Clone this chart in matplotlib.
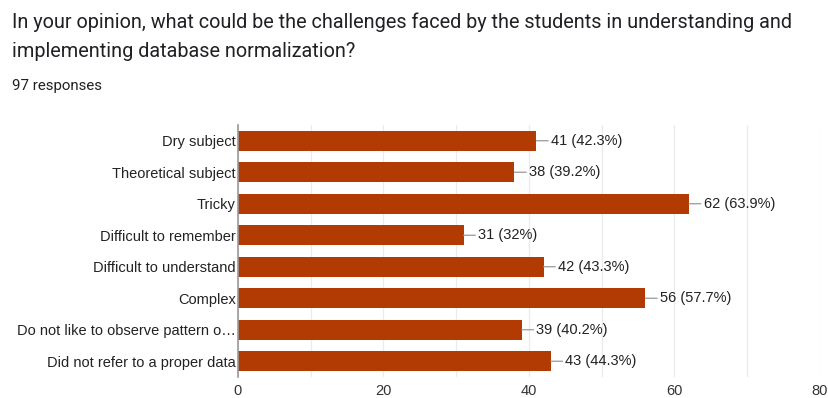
import matplotlib
matplotlib.use("Agg")
import matplotlib.pyplot as plt
from matplotlib.ticker import MultipleLocator

categories = [
    "Dry subject",
    "Theoretical subject",
    "Tricky",
    "Difficult to remember",
    "Difficult to understand",
    "Complex",
    "Do not like to observe pattern o\u2026",
    "Did not refer to a proper data",
]
counts = [41, 38, 62, 31, 42, 56, 39, 43]
percent_labels = ["42.3%", "39.2%", "63.9%", "32%", "43.3%", "57.7%", "40.2%", "44.3%"]
x_ticks = [0, 20, 40, 60, 80]

title = ("In your opinion, what could be the challenges faced by the students in understanding and\n"
         "implementing database normalization?")
subtitle = "97 responses"

bar_color = "#B23A03"
label_font = ["Liberation Sans", "DejaVu Sans"]
W, H = 829, 398
fig = plt.figure(figsize=(W / 100, H / 100), dpi=100)
fig.patch.set_facecolor("white")

fig.text(12 / W, 1 - 12 / H, title, ha="left", va="top", fontsize=14.3,
         family=["Roboto", "DejaVu Sans"], color="#202124", linespacing=1.72)
fig.text(12 / W, 1 - 79 / H, subtitle, ha="left", va="top", fontsize=10.8,
         family=["Roboto", "DejaVu Sans"], color="#202124")

ax = fig.add_axes([238 / W, 1 - 377 / H, (820 - 238) / W, (377 - 125) / H])
ypos = list(range(len(categories)))
ax.barh(ypos, counts, height=0.64, color=bar_color, zorder=3)

for y, c, p in zip(ypos, counts, percent_labels):
    ax.annotate(f"{c} ({p})", xy=(c, y), xytext=(10.5, 0), textcoords="offset points",
                ha="left", va="center", fontsize=10.5, color="#222222",
                family=label_font,
                arrowprops=dict(arrowstyle="-", color="#999999", lw=0.9,
                                shrinkA=0, shrinkB=0))

ax.set_xlim(0, 80)
ax.set_ylim(len(categories) - 0.5, -0.5)
ax.set_yticks(ypos)
ax.set_yticklabels(categories, fontsize=10.5, color="#222222", family=label_font)
ax.set_xticks(x_ticks)
ax.set_xticklabels([str(t) for t in x_ticks], fontsize=10.5, color="#333333",
                   family=label_font)
ax.xaxis.set_minor_locator(MultipleLocator(10))
ax.grid(axis="x", which="both", color="#ebebeb", lw=0.9, zorder=0)
ax.tick_params(axis="both", which="both", length=0)
ax.tick_params(axis="x", pad=5)
ax.tick_params(axis="y", pad=1.5)
for side in ["top", "right", "bottom"]:
    ax.spines[side].set_visible(False)
ax.spines["left"].set_color("#999999")
ax.spines["left"].set_linewidth(1.2)
ax.spines["left"].set_zorder(4)

fig.savefig("out.png", dpi=100, facecolor="white")
